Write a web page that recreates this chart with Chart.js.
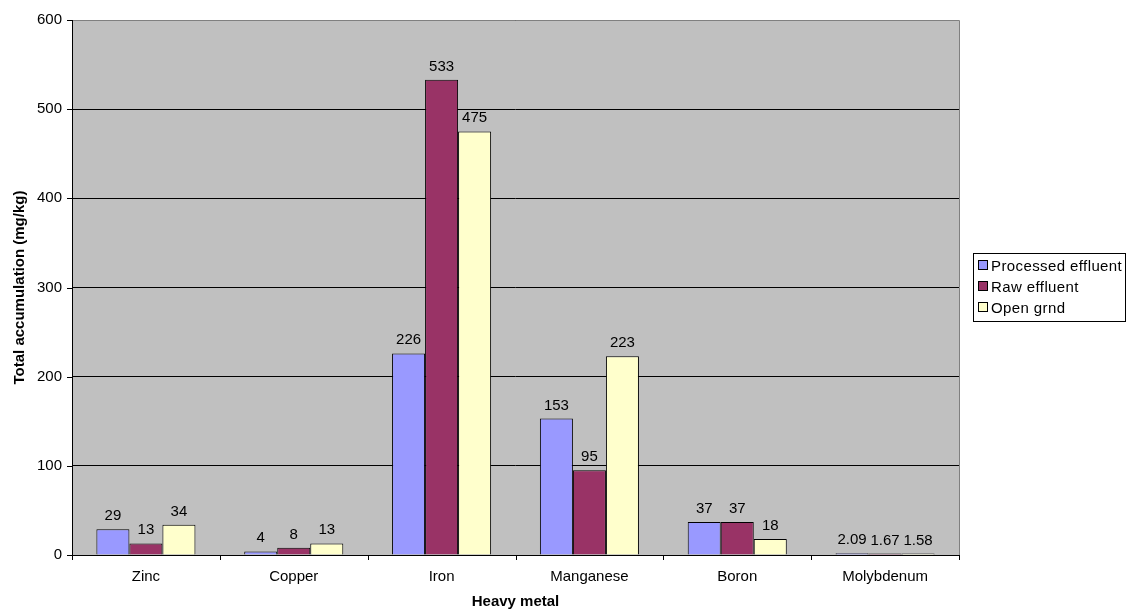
<!DOCTYPE html>
<html>
<head>
<meta charset="utf-8">
<script src="https://cdn.jsdelivr.net/npm/chart.js@4/dist/chart.umd.min.js"></script>
<style>
  html, body { margin: 0; padding: 0; background: #ffffff; }
  #wrap { width: 1126px; height: 611px; }
</style>
</head>
<body>
<div id="wrap"><canvas id="c" width="1126" height="611"></canvas></div>
<script>
// Heavy metal accumulation in soil, mg/kg
const metals = ['Zinc', 'Copper', 'Iron', 'Manganese', 'Boron', 'Molybdenum'];
const processedEffluent = [29, 4, 226, 153, 37, 2.09];
const rawEffluent = [13, 8, 533, 95, 37, 1.67];
const openGround = [34, 13, 475, 223, 18, 1.58];
const yTicks = [0, 100, 200, 300, 400, 500, 600];

const FONT = '"Liberation Sans", Arial, sans-serif';

// Plot background, frame and tick marks in the spreadsheet style
const plotFrame = {
  id: 'plotFrame',
  beforeDraw(chart) {
    const { ctx, chartArea: a } = chart;
    ctx.save();
    ctx.fillStyle = '#C0C0C0';
    ctx.fillRect(a.left, a.top, a.right - a.left, a.bottom - a.top);
    ctx.restore();
  },
  afterDatasetsDraw(chart) {
    const { ctx, chartArea: a, scales } = chart;
    ctx.save();
    // top and right frame
    ctx.strokeStyle = '#808080';
    ctx.lineWidth = 1;
    ctx.beginPath();
    ctx.moveTo(a.left, a.top + 0.5);
    ctx.lineTo(a.right + 0.5, a.top + 0.5);
    ctx.lineTo(a.right + 0.5, a.bottom);
    ctx.stroke();
    // axes
    ctx.strokeStyle = '#000000';
    ctx.beginPath();
    ctx.moveTo(a.left + 0.5, a.top);
    ctx.lineTo(a.left + 0.5, a.bottom + 0.5);
    ctx.lineTo(a.right + 1, a.bottom + 0.5);
    ctx.stroke();
    // y tick marks
    ctx.beginPath();
    yTicks.forEach(v => {
      const y = Math.round(scales.y.getPixelForValue(v)) + 0.5;
      ctx.moveTo(a.left - 5, y);
      ctx.lineTo(a.left, y);
    });
    // x tick marks at category boundaries
    const n = metals.length;
    const w = (a.right - a.left) / n;
    for (let i = 0; i <= n; i++) {
      const x = Math.round(a.left + i * w) + 0.5;
      ctx.moveTo(x, a.bottom);
      ctx.lineTo(x, a.bottom + 5);
    }
    ctx.stroke();
    ctx.restore();
  }
};

// Value labels above each bar
const valueLabels = {
  id: 'valueLabels',
  afterDatasetsDraw(chart) {
    const { ctx } = chart;
    ctx.save();
    ctx.font = '15px ' + FONT;
    ctx.fillStyle = '#000000';
    ctx.textAlign = 'center';
    ctx.textBaseline = 'alphabetic';
    chart.data.datasets.forEach((ds, i) => {
      const meta = chart.getDatasetMeta(i);
      meta.data.forEach((bar, j) => {
        ctx.fillText(String(ds.data[j]), bar.x, bar.y - 9);
      });
    });
    ctx.restore();
  }
};

// Boxed legend to the right of the plot
const boxLegend = {
  id: 'boxLegend',
  afterDraw(chart) {
    const { ctx } = chart;
    const x0 = 973, y0 = 253, w = 153, h = 69, row = 21;
    ctx.save();
    ctx.fillStyle = '#ffffff';
    ctx.fillRect(x0, y0, w, h);
    ctx.strokeStyle = '#000000';
    ctx.lineWidth = 1;
    ctx.strokeRect(x0 + 0.5, y0 + 0.5, w - 1, h - 1);
    ctx.font = '15px ' + FONT;
    if ('letterSpacing' in ctx) ctx.letterSpacing = '0.4px';
    ctx.textBaseline = 'middle';
    ctx.textAlign = 'left';
    chart.data.datasets.forEach((ds, i) => {
      const cy = y0 + 13 + i * row;
      ctx.fillStyle = ds.backgroundColor;
      ctx.fillRect(x0 + 5.5, cy - 5, 9, 9);
      ctx.strokeStyle = '#000000';
      ctx.strokeRect(x0 + 5.5, cy - 5.5, 9, 9);
      ctx.fillStyle = '#000000';
      ctx.fillText(ds.label, x0 + 18, cy + 1);
    });
    ctx.restore();
  }
};

new Chart(document.getElementById('c'), {
  type: 'bar',
  data: {
    labels: metals,
    datasets: [
      { label: 'Processed effluent', data: processedEffluent, backgroundColor: '#9999FF', borderColor: '#000000', borderWidth: 1 },
      { label: 'Raw effluent', data: rawEffluent, backgroundColor: '#993366', borderColor: '#000000', borderWidth: 1 },
      { label: 'Open grnd', data: openGround, backgroundColor: '#FFFFCC', borderColor: '#000000', borderWidth: 1 }
    ]
  },
  options: {
    responsive: false,
    animation: false,
    devicePixelRatio: 1,
    layout: { padding: { top: 20, right: 167, left: 0, bottom: 0 } },
    datasets: { bar: { categoryPercentage: 0.67, barPercentage: 1.0 } },
    plugins: {
      legend: { display: false },
      tooltip: { enabled: false }
    },
    scales: {
      x: {
        grid: { display: false, drawTicks: false },
        border: { display: false },
        ticks: { color: '#000000', font: { family: FONT, size: 15 }, padding: 13, maxRotation: 0 },
        title: { display: true, text: 'Heavy metal', color: '#000000', font: { family: FONT, size: 15, weight: 'bold' }, padding: { top: 6, bottom: 0 } },
        afterFit(s) { s.height = 56; }
      },
      y: {
        min: 0,
        max: 600,
        afterBuildTicks(s) { s.ticks = yTicks.map(v => ({ value: v })); },
        grid: { color: '#000000', drawTicks: false, lineWidth: 1 },
        border: { display: false },
        ticks: { color: '#000000', font: { family: FONT, size: 15 }, padding: 10 },
        title: { display: true, text: 'Total accumulation (mg/kg)', color: '#000000', font: { family: FONT, size: 15, weight: 'bold' }, padding: { top: 11, bottom: 4 } },
        afterFit(s) { s.width = 72; }
      }
    }
  },
  plugins: [plotFrame, valueLabels, boxLegend]
});
</script>
</body>
</html>
